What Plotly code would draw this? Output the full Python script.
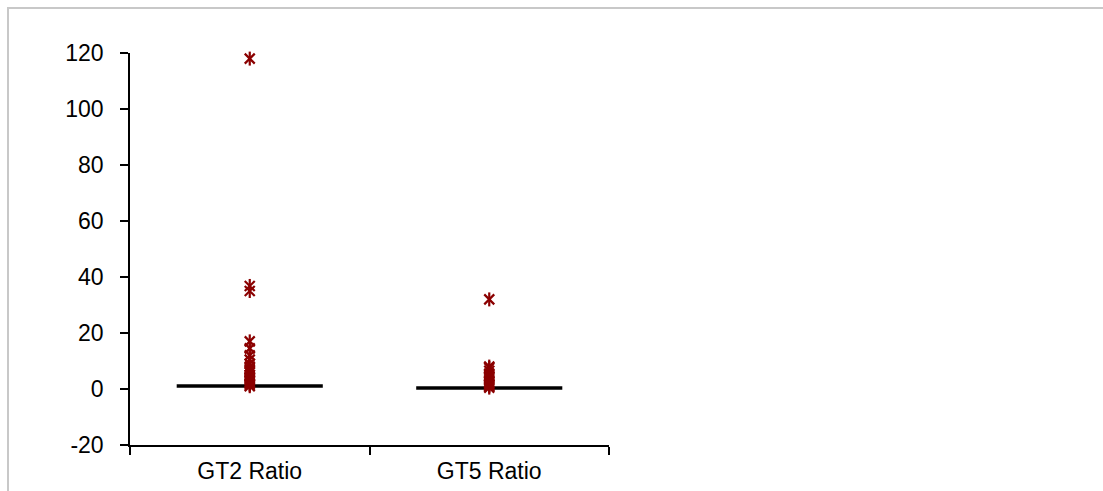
import plotly.graph_objects as go

# Ratio data per group
categories = ["GT2 Ratio", "GT5 Ratio"]
gt2_values = [118, 36.8, 35, 17, 14.5, 12, 10.5, 9, 8, 7, 6.5, 6, 5, 4.5, 4, 3.5, 3, 2.5, 2, 1.5, 1]
gt5_values = [32, 8, 7.5, 6.5, 5.5, 4.5, 4, 3, 2.5, 2, 1.5, 1, 0.5]
medians = [1.1, 0.4]
y_ticks = [-20, 0, 20, 40, 60, 80, 100, 120]
y_tick_text = ["-20", "0", "20", "40", "60", "80", "100", "120"]

W, H = 1103, 491
L, R, T, B = 130, 494, 53, 46
MARK = "#8b0000"
FONT = "Liberation Sans, Arial, sans-serif"
FS = 23

fig = go.Figure()

groups = [gt2_values, gt5_values]
for cat, vals in zip(categories, groups):
    xs = [cat] * len(vals)
    # star-like marker: an x with a vertical stroke
    for sym in ("x-thin-open", "line-ns-open"):
        fig.add_trace(go.Scatter(
            x=xs, y=vals, mode="markers", showlegend=False,
            marker=dict(symbol=sym, size=10, color=MARK,
                        line=dict(color=MARK, width=2.2)),
            cliponaxis=False,
        ))

# median bars
shapes = []
for i, m in enumerate(medians):
    shapes.append(dict(type="line", xref="x", yref="y",
                       x0=i - 0.305, x1=i + 0.305, y0=m, y1=m,
                       line=dict(color="black", width=3.5), layer="below"))

# outer chart border
pw, ph = W - L - R, H - T - B
shapes.append(dict(type="rect", xref="paper", yref="paper",
                   x0=(8 - L) / pw, x1=(W + 10 - L) / pw,
                   y0=(H - B - (H + 10)) / ph, y1=(H - B - 8) / ph,
                   line=dict(color="#c8c8c8", width=2), fillcolor="rgba(0,0,0,0)",
                   layer="below"))

fig.update_layout(
    width=W, height=H,
    margin=dict(l=L, r=R, t=T, b=B, autoexpand=False),
    paper_bgcolor="white", plot_bgcolor="white",
    font=dict(family=FONT, size=FS, color="black"),
    shapes=shapes,
    xaxis=dict(
        type="category", categoryorder="array", categoryarray=categories,
        range=[-0.5, 1.5], showline=True, linecolor="black", linewidth=1.5,
        ticks="outside", tickson="boundaries", ticklen=8, tickwidth=1.5,
        tickcolor="black", showgrid=False, zeroline=False, automargin=False,
        ticklabelstandoff=5,
        tickfont=dict(family=FONT, size=FS, color="black"),
    ),
    yaxis=dict(
        range=[-20, 120], tickvals=y_ticks, ticktext=y_tick_text,
        showline=True, linecolor="black", automargin=False,
        linewidth=1.5, ticks="outside", ticklen=8, tickwidth=1.5,
        tickcolor="black", showgrid=False, zeroline=False,
        ticklabelstandoff=12,
        tickfont=dict(family=FONT, size=FS, color="black"),
    ),
)

fig.write_html("out.html")
